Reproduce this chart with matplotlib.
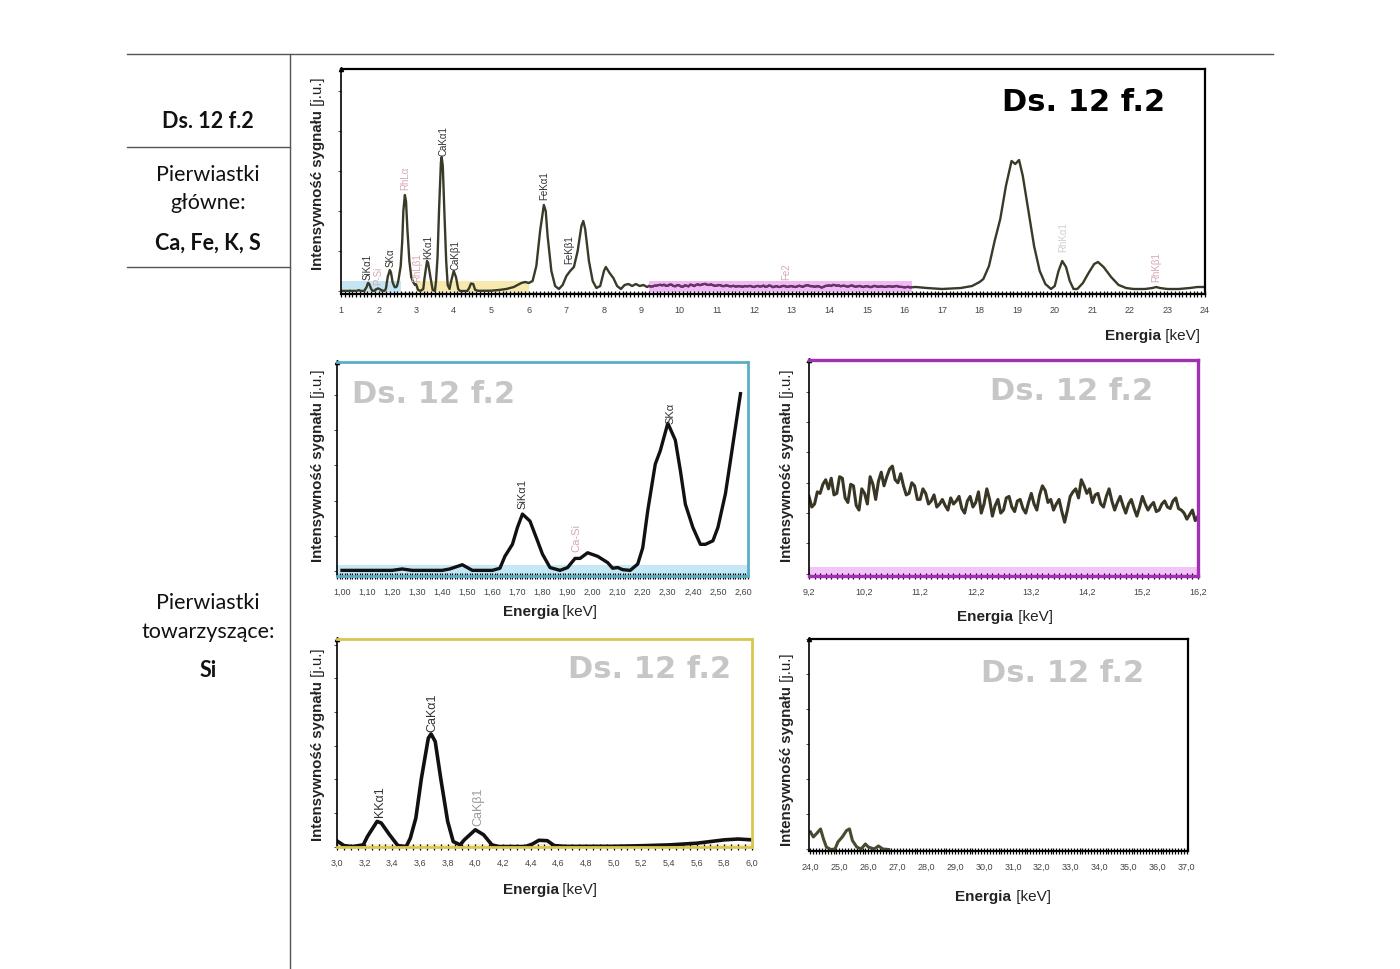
import numpy as np
import matplotlib
matplotlib.use("Agg")
import matplotlib.pyplot as plt
from matplotlib.lines import Line2D
from matplotlib.ticker import FixedLocator, MultipleLocator, FuncFormatter

# --- dane widma (intensywnosc w j.u., skala wykresu glownego) ---
# 1.0 - 2.6 keV (panel niebieski)
e_blue = [1.00, 1.10, 1.20, 1.24, 1.28, 1.40, 1.43, 1.48, 1.52, 1.60, 1.63, 1.65, 1.68, 1.70,
          1.72, 1.75, 1.78, 1.80, 1.83, 1.87, 1.90, 1.93, 1.95, 1.98, 2.02, 2.06, 2.08, 2.10,
          2.12, 2.15, 2.18, 2.20, 2.22, 2.25, 2.27, 2.30, 2.33, 2.35, 2.37, 2.40, 2.43, 2.45,
          2.48, 2.50, 2.53, 2.55, 2.59]
c_blue = [0.1, 0.1, 0.1, 0.3, 0.1, 0.1, 0.3, 0.9, 0.1, 0.1, 0.4, 2.1, 3.8, 6.2,
          8.1, 7.1, 4.3, 2.4, 0.5, 0.1, 0.5, 1.8, 1.8, 2.6, 2.1, 1.2, 0.4, 0.5,
          0.2, 0.1, 1.0, 3.3, 8.6, 15.2, 17.1, 21.0, 18.6, 14.3, 9.5, 6.2, 3.8, 3.8,
          4.3, 6.2, 11.0, 15.7, 25.2]

# 2.6 - 3.0 keV (RhLa)
e_rhl = [2.63, 2.66, 2.70, 2.73, 2.77, 2.82, 2.87, 2.92, 2.97]
c_rhl = [50, 80, 96, 90, 60, 30, 14, 9, 6]

# 3.0 - 6.0 keV (panel zolty)
e_yel = [3.00, 3.05, 3.11, 3.19, 3.22, 3.29, 3.32, 3.38, 3.44, 3.50, 3.53, 3.57, 3.61, 3.66,
         3.68, 3.71, 3.75, 3.80, 3.84, 3.89, 3.92, 4.00, 4.06, 4.12, 4.17, 4.36, 4.41, 4.46,
         4.52, 4.57, 4.65, 5.00, 5.20, 5.40, 5.60, 5.80, 5.90, 6.00]
c_yel = [6.7, 1.2, 0.0, 2.0, 12, 30, 28, 14, 1.2, 0.0, 10, 34, 81, 129,
         134, 125, 81, 30, 6, 2, 8, 20, 14, 2, 0.0, 0.0, 2.8, 7.5,
         7.0, 1.2, 0.2, 0.3, 1.0, 2.0, 4.0, 8.0, 9.0, 8.0]

# 6.0 - 9.2 keV (Fe)
e_fe = [6.10, 6.20, 6.30, 6.40, 6.45, 6.50, 6.60, 6.70, 6.80, 6.90, 7.00, 7.10, 7.20, 7.30,
        7.40, 7.45, 7.50, 7.60, 7.70, 7.80, 7.90, 8.00, 8.05, 8.15, 8.25, 8.35, 8.45, 8.55,
        8.65, 8.75, 8.85, 8.95, 9.05, 9.15]
c_fe = [10, 25, 60, 86, 80, 55, 20, 5, 2, 6, 15, 20, 24, 40,
        65, 70, 62, 30, 10, 3, 5, 20, 24, 18, 13, 5, 2, 6,
        7, 5, 7, 5, 6, 4]

# 9.2 - 16.2 keV (panel fioletowy), kanaly co 0.05 keV
c_mag = [5.1, 4.4, 4.6, 5.4, 5.3, 5.9, 6.2, 5.6, 6.3, 5.2, 5.3, 6.4, 6.3, 5.0, 4.7, 5.9,
         5.8, 4.5, 4.2, 5.6, 5.3, 4.6, 6.4, 5.9, 4.9, 6.1, 6.7, 5.8, 6.4, 6.9, 7.1, 6.2,
         6.0, 6.6, 5.8, 5.2, 5.3, 6.0, 5.8, 4.9, 4.9, 5.6, 5.3, 4.6, 4.8, 5.2, 4.4, 4.6,
         4.9, 4.5, 4.2, 5.0, 4.6, 4.8, 5.1, 4.3, 4.0, 4.8, 5.1, 4.4, 4.7, 5.4, 4.0, 4.6,
         5.6, 4.9, 3.8, 4.5, 4.9, 4.0, 4.2, 5.0, 5.1, 4.4, 4.1, 4.8, 4.9, 4.3, 4.0, 4.7,
         5.3, 4.6, 4.2, 5.2, 5.8, 5.5, 4.7, 4.9, 4.2, 4.6, 4.9, 4.1, 3.4, 4.2, 5.1, 5.4,
         5.6, 5.0, 6.2, 5.8, 5.3, 5.6, 4.7, 5.2, 5.3, 4.6, 4.4, 5.1, 5.6, 4.8, 4.2, 4.7,
         5.1, 4.5, 4.0, 4.6, 4.9, 4.3, 3.8, 4.4, 5.1, 4.6, 4.2, 4.5, 4.7, 4.1, 4.2, 4.6,
         4.8, 4.4, 4.3, 4.8, 5.0, 4.3, 4.2, 4.0, 3.6, 3.9, 4.2, 3.5, 3.8]
e_mag = np.round(np.arange(9.2, 16.21, 0.05), 2)

# 16.2 - 24 keV (Rh)
e_rh = [16.30, 16.60, 17.00, 17.50, 17.80, 18.00, 18.10, 18.25, 18.40, 18.55, 18.70, 18.85,
        18.95, 19.05, 19.15, 19.30, 19.45, 19.60, 19.75, 19.90, 20.00, 20.10, 20.20, 20.30,
        20.40, 20.50, 20.60, 20.75, 20.90, 21.05, 21.15, 21.30, 21.50, 21.70, 21.90, 22.10,
        22.40, 22.60, 22.70, 22.80, 23.00, 23.30, 23.60, 23.80, 24.00]
c_rh = [4, 3, 2, 3, 5, 9, 12, 25, 50, 72, 105, 130,
        127, 131, 115, 80, 45, 20, 7, 2, 5, 20, 30, 24,
        10, 2, 2, 8, 18, 27, 29, 24, 14, 6, 3, 2,
        2, 3, 4, 3, 2, 2, 3, 4, 4]

# 24 - 37 keV (panel czarny)
e_blk = [24.00, 24.10, 24.20, 24.35, 24.45, 24.55, 24.70, 24.85, 24.95, 25.10, 25.25, 25.35,
         25.45, 25.60, 25.75, 25.90, 26.00, 26.20, 26.35, 26.50, 26.70]
c_blk = [3.5, 2.5, 3.1, 4.1, 2.1, 0.5, 0.0, 0.1, 1.5, 2.5, 3.8, 4.1,
         1.8, 0.5, 0.1, 1.1, 0.5, 0.1, 0.7, 0.1, 0.0]

# etykiety linii
top_labels = [("SiKα1", 1.72, 12, "#333333"), ("P-Si", 2.00, 7, "#d6a8b4"), ("SKα", 2.31, 25, "#333333"),
              ("RhLα", 2.72, 102, "#d6a8b4"), ("RhLβ1", 3.03, 10, "#d6a8b4"), ("KKα1", 3.33, 33, "#333333"),
              ("CaKα1", 3.72, 136, "#333333"), ("CaKβ1", 4.05, 22, "#333333"), ("FeKα1", 6.42, 92, "#333333"),
              ("FeKβ1", 7.08, 28, "#333333"), ("Fe2", 12.85, 12, "#d6a8b4"), ("RhKα1", 20.22, 40, "#cfcfcf"),
              ("RhKβ1", 22.70, 10, "#d6a8b4")]
blue_labels = [("SiKα1", 1.72, 9.0, "#333333"), ("Ca-Si", 1.935, 2.9, "#d6a8b4"), ("SKα", 2.31, 21.0, "#333333")]
yel_labels = [("KKα1", 3.31, 36, "#333333"), ("CaKα1", 3.69, 137, "#333333"), ("CaKβ1", 4.02, 26, "#9a9a9a")]

SAMPLE = "Ds. 12 f.2"
YLAB = ("Intensywność sygnału", "[j.u.]")
XLAB = ("Energia", "[keV]")

FONT = ["Liberation Sans", "DejaVu Sans"]
HEAVY = ["DejaVu Sans"]
TFONT = ["Lato", "DejaVu Sans"]

W, H = 1400, 970
fig = plt.figure(figsize=(W / 100, H / 100), dpi=100)
rend = fig.canvas.get_renderer()


def rect(x0, y0, x1, y1):
    return [x0 / W, 1 - y1 / H, (x1 - x0) / W, (y1 - y0) / H]


def fline(xs, ys, **kw):
    fig.add_artist(Line2D([x / W for x in xs], [1 - y / H for y in ys],
                          transform=fig.transFigure, **kw))


def label_pair(x, y, bold, rest, size, rot=0, ha="center"):
    t1 = fig.text(0, 0, bold, fontsize=size, fontweight="bold", family=FONT, color="#222222")
    t2 = fig.text(0, 0, " " + rest, fontsize=size, family=FONT, color="#222222")
    w1 = t1.get_window_extent(rend).width
    w2 = t2.get_window_extent(rend).width
    tot = w1 + w2
    if rot == 0:
        x0 = x - tot / 2 if ha == "center" else x - tot
        for t, xx in ((t1, x0), (t2, x0 + w1)):
            t.set_position((xx / W, 1 - y / H))
            t.set_ha("left")
            t.set_va("baseline")
    else:
        y0 = y + tot / 2
        for t, yy in ((t1, y0), (t2, y0 - w1)):
            t.set_position((x / W, 1 - yy / H))
            t.set_rotation(90)
            t.set_rotation_mode("anchor")
            t.set_ha("left")
            t.set_va("center")


def style(ax, frame, xlim, ylim, majors, minor, fmt, ymaj, lw=2.0):
    ax.set_xlim(xlim)
    ax.set_ylim(ylim)
    for s in ax.spines.values():
        s.set_color(frame)
        s.set_linewidth(lw)
    ax.spines["left"].set_color("black")
    ax.spines["left"].set_linewidth(1.2)
    ax.xaxis.set_major_locator(FixedLocator(majors))
    ax.xaxis.set_minor_locator(MultipleLocator(minor))
    ax.xaxis.set_major_formatter(FuncFormatter(lambda v, p: fmt.format(v).replace(".", ",")))
    ax.tick_params(axis="x", which="both", direction="inout", length=4, width=0.9,
                   color="black", labelsize=6.5, labelcolor="#444444", pad=6)
    for lab in ax.get_xticklabels():
        lab.set_family(FONT)
    ax.yaxis.set_major_locator(MultipleLocator(ymaj))
    ax.tick_params(axis="y", direction="out", length=2.5, width=0.8, color="#555555", labelleft=False)
    ax.plot(0, 1, marker="^", ms=3, color="black", transform=ax.transAxes, clip_on=False)


def peak_labels(ax, labels, size):
    for txt, x, y, col in labels:
        ax.text(x, y, txt, rotation=90, ha="center", va="bottom", fontsize=size,
                color=col, family=FONT)


def watermark(ax, x, y, col="#c6c6c6", ha="left"):
    ax.text(x, y, SAMPLE, transform=ax.transAxes, fontsize=22, fontweight="bold",
            color=col, family=HEAVY, ha=ha, va="top")


# --- tabela po lewej ---
fline([127, 1273], [55, 55], color="#555555", lw=1)
fline([290, 290], [55, 970], color="#555555", lw=1)
fline([127, 290], [148, 148], color="#555555", lw=1)
fline([127, 290], [268, 268], color="#555555", lw=1)
for txt, y, wt in (("Ds. 12 f.2", 122, "bold"), ("Pierwiastki", 175, "normal"), ("główne:", 203, "normal"),
                   ("Ca, Fe, K, S", 243, "bold"), ("Pierwiastki", 603, "normal"),
                   ("towarzyszące:", 632, "normal"), ("Si", 671, "bold")):
    fig.text(208 / W, 1 - y / H, txt, ha="center", va="center", fontsize=15.5, fontweight=wt,
             family=TFONT, color="#111111")

# --- wykres glowny 1-24 keV ---
ax = fig.add_axes(rect(341, 70, 1205, 295))
e_all = list(e_blue) + e_rhl + e_yel + e_fe + list(e_mag) + e_rh
c_all = list(c_blue) + c_rhl + c_yel + c_fe + list(c_mag) + c_rh
style(ax, "black", (1, 24), (-3, 222), list(range(1, 25)), 0.1, "{:.0f}", 40, lw=1.6)
ax.fill_between([1.0, 2.6], -1, 10, color="#c4e6f4", lw=0)
ax.fill_between([3.0, 6.0], -1, 10, color="#f7e9b0", lw=0)
ax.fill_between([9.2, 16.2], -1, 10, color="#f1b9f6", lw=0)
ax.plot(e_all, c_all, color="#3a3a28", lw=1.7)
ax.plot(e_mag, c_mag, color="#6e2f72", lw=1.4)
peak_labels(ax, top_labels, 7)
watermark(ax, 0.954, 0.92, col="black", ha="right")
label_pair(318, 174, *YLAB, 10.8, rot=90)
label_pair(1200, 340, *XLAB, 11, ha="right")

# --- panel 1.00-2.60 keV ---
ax = fig.add_axes(rect(337, 363, 748, 577))
style(ax, "#5aaec6", (0.98, 2.62), (-0.7, 29.7), np.round(np.arange(1.0, 2.61, 0.1), 2), 0.01, "{:.2f}", 5)
ax.axhspan(-0.7, 0.9, color="#c4e8f6", lw=0)
ax.plot(e_blue, c_blue, color="#111111", lw=2.4)
peak_labels(ax, blue_labels, 8)
watermark(ax, 0.036, 0.92)
label_pair(318, 466, *YLAB, 10.8, rot=90)
label_pair(550, 616, *XLAB, 11)

# --- panel 9.2-16.2 keV ---
ax = fig.add_axes(rect(809, 361, 1198, 577))
style(ax, "#a22fb6", (9.2, 16.2), (-0.15, 14.1), np.round(np.arange(9.2, 16.21, 1.0), 1), 0.1, "{:.1f}", 2, lw=2.4)
ax.axhspan(-0.15, 0.45, color="#f3c4f7", lw=0)
ax.plot(e_mag, c_mag, color="#3a3626", lw=2.2)
watermark(ax, 0.884, 0.926, ha="right")
label_pair(787, 466, *YLAB, 10.8, rot=90)
label_pair(1005, 621, *XLAB, 11)

# --- panel 3.0-6.0 keV ---
ax = fig.add_axes(rect(337, 640, 752, 848))
style(ax, "#dcc54e", (3.0, 6.0), (-0.5, 247), np.round(np.arange(3.0, 6.01, 0.2), 1), 0.05, "{:.1f}", 40)
ax.axhspan(-0.5, 3.5, color="#f8f0cc", lw=0)
ax.plot(e_yel, c_yel, color="#111111", lw=2.6)
peak_labels(ax, yel_labels, 9)
watermark(ax, 0.949, 0.928, ha="right")
label_pair(318, 745, *YLAB, 10.8, rot=90)
label_pair(550, 894, *XLAB, 11)

# --- panel 24-37 keV ---
ax = fig.add_axes(rect(809, 640, 1188, 852))
style(ax, "black", (23.95, 37.05), (-0.3, 42), np.round(np.arange(24.0, 37.01, 1.0), 1), 0.1, "{:.1f}", 7, lw=1.6)
ax.plot(e_blk, c_blk, color="#4a4a30", lw=2.2)
watermark(ax, 0.884, 0.91, ha="right")
label_pair(787, 750, *YLAB, 10.8, rot=90)
label_pair(1003, 901, *XLAB, 11)

fig.savefig("out.png", dpi=100, facecolor="white")
